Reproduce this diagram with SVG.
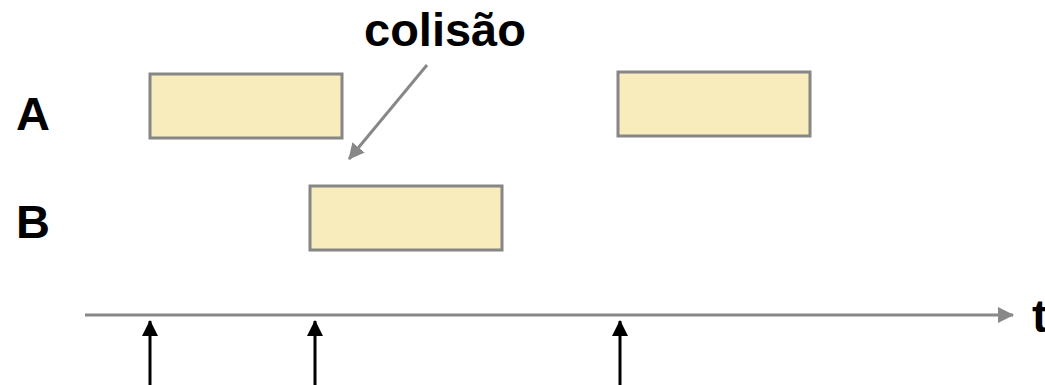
<svg xmlns="http://www.w3.org/2000/svg" width="1045" height="385" viewBox="0 0 1045 385">
<style>
.box{fill:#f8ebbc;stroke:#868686;stroke-width:3}
.lbl{font-family:"Liberation Sans",Arial,sans-serif;font-weight:bold;font-size:47px;fill:#000}
.gray{stroke:#888;stroke-width:3;fill:none}
.blk{stroke:#000;stroke-width:3;fill:none}
</style>
<defs>
<marker id="ga" viewBox="0 0 16 16" refX="15" refY="8" markerWidth="16" markerHeight="16" orient="auto" markerUnits="userSpaceOnUse"><path d="M0,0 L16,8 L0,16 z" fill="#888"/></marker>
<marker id="ba" viewBox="0 0 16 16" refX="15" refY="8" markerWidth="16" markerHeight="16" orient="auto" markerUnits="userSpaceOnUse"><path d="M0,0 L16,8 L0,16 z" fill="#000"/></marker>
</defs>
<g id="labelA"><text class="lbl" x="16" y="130">A</text></g>
<g id="labelB"><text class="lbl" x="16" y="238">B</text></g>
<g id="labelColisao"><text class="lbl" x="364" y="46">colisão</text></g>
<g id="labelT"><text class="lbl" x="1032" y="332">t</text></g>
<g id="boxA1"><rect class="box" x="150" y="74" width="192" height="64"/></g>
<g id="boxA2"><rect class="box" x="618" y="72" width="192" height="64"/></g>
<g id="boxB"><rect class="box" x="310" y="186" width="192" height="64"/></g>
<g id="connectors">
<line class="gray" x1="427" y1="65" x2="349" y2="159" marker-end="url(#ga)"/>
<line class="gray" x1="85" y1="315" x2="1013" y2="315" marker-end="url(#ga)"/>
<line class="blk" x1="150" y1="385" x2="150" y2="321" marker-end="url(#ba)"/>
<line class="blk" x1="315" y1="385" x2="315" y2="321" marker-end="url(#ba)"/>
<line class="blk" x1="620" y1="385" x2="620" y2="321" marker-end="url(#ba)"/>
</g>
</svg>
